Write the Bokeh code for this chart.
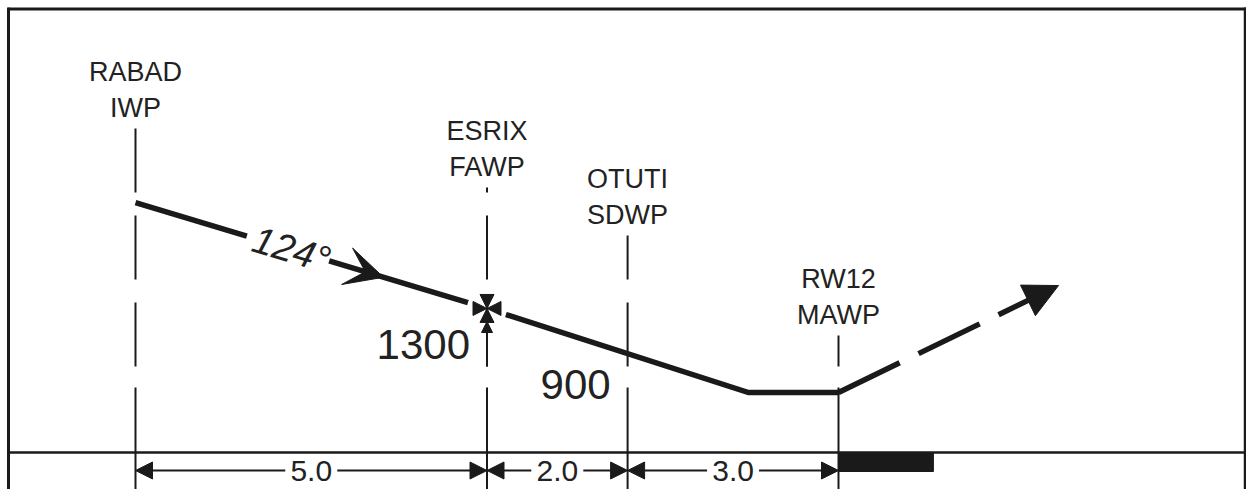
import numpy as np
from bokeh.plotting import figure
from bokeh.models import Arrow, NormalHead, VeeHead, ColumnDataSource
from bokeh.core.properties import value
from bokeh.embed import file_html
from bokeh.resources import INLINE

# ---------------- data ----------------
waypoints = ["RABAD", "ESRIX", "OTUTI", "RW12"]
wp_roles = ["IWP", "FAWP", "SDWP", "MAWP"]
leg_nm = [5.0, 2.0, 3.0]
leg_labels = ["5.0", "2.0", "3.0"]
alt_fix_index = [1, 2]            # ESRIX, OTUTI
alt_values = [1300, 900]
alt_labels = ["1300", "900"]
course_deg = 124
profile_nm = [0.0, 5.0, 8.72, 10.0]
profile_alt = [2256, 1300, 541, 541]
missed_nm = [10.0, 13.13]
missed_alt = [541, 1507]
runway_nm = [10.0, 11.35]

# ---------------- layout / style ----------------
W, H = 1246, 489
X0_PX, Y0_PX = 135, 452
PX_NM, PX_FT = 70.3, 0.1108
INK = "#1a1a1a"
TXT = "#222222"
FONT = value("Liberation Sans")


def xd(px):
    return (px - X0_PX) / PX_NM


def yd(py):
    return (Y0_PX - py) / PX_FT


label_tops_py = [128, 187, 235, 335]
DASH_ORIGIN, DASH_PERIOD = 128, 87
SOLID_FROM_PY = 387

p = figure(width=W, height=H,
           x_range=(xd(0), xd(W)), y_range=(yd(H), yd(0)),
           toolbar_location=None, output_backend="svg", min_border=0,
           x_axis_location=None, y_axis_location=None,
           outline_line_color=None, background_fill_color="white",
           border_fill_color="white")
p.grid.visible = False

cum = np.concatenate([[0.0], np.cumsum(leg_nm)])

# frame
p.line([xd(8), xd(1246)], [yd(8.5), yd(8.5)], line_color=INK, line_width=3)
p.line([xd(8), xd(8)], [yd(7), yd(H)], line_color=INK, line_width=3)
p.line([xd(1244.5), xd(1244.5)], [yd(7), yd(H)], line_color=INK, line_width=2.5)
# ground line
p.line([xd(8), xd(1246)], [0, 0], line_color=INK, line_width=2.5)
# runway bar
p.quad(left=[runway_nm[0]], right=[runway_nm[1]], top=[0], bottom=[yd(471)],
       fill_color=INK, line_color=INK)

# vertical waypoint lines
for x, top in zip(cum, label_tops_py):
    off = int((top - DASH_ORIGIN) % DASH_PERIOD)
    p.line([x, x], [yd(top), yd(SOLID_FROM_PY)], line_color=INK, line_width=2,
           line_dash="64 23", line_dash_offset=off)
    p.line([x, x], [yd(SOLID_FROM_PY), yd(H)], line_color=INK, line_width=2)

# profile
p.line(profile_nm, profile_alt, line_color=INK, line_width=5.5, line_join="miter")

# missed approach
p.add_layout(Arrow(end=NormalHead(size=34, fill_color=INK, line_color=INK),
                   x_start=missed_nm[0], y_start=missed_alt[0],
                   x_end=missed_nm[1], y_end=missed_alt[1],
                   line_color=INK, line_width=5.5, line_dash="68 21"))

# course label and arrow
angle = -np.arctan(((profile_alt[0] - profile_alt[1]) * PX_FT) /
                   ((profile_nm[1] - profile_nm[0]) * PX_NM))
m_nm = xd(287.5)
p.rect(x=[m_nm], y=[np.interp(m_nm, profile_nm, profile_alt)], width=86, height=14,
       width_units="screen", height_units="screen", angle=angle,
       fill_color="white", line_color=None)
c_nm = xd(291)
p.text(x=[c_nm], y=[np.interp(c_nm, profile_nm, profile_alt)], text=[f"{course_deg}°"],
       angle=angle, text_align="center", text_baseline="middle",
       text_font=FONT, text_font_style="italic", text_font_size="38px", text_color=TXT)
tip_nm = xd(383)
back_nm = xd(330)
p.add_layout(Arrow(end=VeeHead(size=38, fill_color=INK, line_color=INK),
                   x_start=back_nm, y_start=np.interp(back_nm, profile_nm, profile_alt),
                   x_end=tip_nm, y_end=np.interp(tip_nm, profile_nm, profile_alt),
                   line_alpha=0))

# FAF maltese cross
fx, fy = cum[alt_fix_index[0]], alt_values[0]
p.scatter(x=[fx], y=[fy], marker="circle", size=40, fill_color="white", line_color=None)
for dx, dy in [(-1, 0), (1, 0), (0, -1), (0, 1)]:
    p.add_layout(Arrow(end=NormalHead(size=14, fill_color=INK, line_color=INK),
                       x_start=fx + dx * 0.5, y_start=fy + dy * 300,
                       x_end=fx, y_end=fy, line_alpha=0))
p.add_layout(Arrow(end=NormalHead(size=11, fill_color=INK, line_color=INK),
                   x_start=fx, y_start=yd(366), x_end=fx, y_end=yd(321),
                   line_color=INK, line_width=2))

# altitude labels
alt_src = ColumnDataSource(dict(x=[cum[i] for i in alt_fix_index], y=alt_values,
                                t=alt_labels, yoff=[36, 32]))
p.text(x="x", y="y", text="t", y_offset="yoff", x_offset=-17, source=alt_src,
       text_align="right", text_baseline="middle", text_font=FONT,
       text_font_size="42px", text_color=TXT)

# waypoint labels
p.text(x=list(cum), y=[yd(t) for t in label_tops_py],
       text=[f"{n}\n{r}" for n, r in zip(waypoints, wp_roles)],
       text_align="center", text_baseline="bottom", y_offset=-6,
       text_font=FONT, text_font_size="27px", text_color=TXT, text_line_height=1.2)

# distance dimension arrows
y_dim = yd(470)
for a, b in zip(cum[:-1], cum[1:]):
    p.add_layout(Arrow(start=NormalHead(size=17, fill_color=INK, line_color=INK),
                       end=NormalHead(size=17, fill_color=INK, line_color=INK),
                       x_start=a, y_start=y_dim, x_end=b, y_end=y_dim,
                       line_color=INK, line_width=2, level="underlay"))
mids = list((cum[:-1] + cum[1:]) / 2)
p.rect(x=mids, y=[y_dim] * 3, width=52, height=8, width_units="screen",
       height_units="screen", fill_color="white", line_color=None)
p.text(x=mids, y=[y_dim] * 3, text=leg_labels, text_align="center",
       text_baseline="middle", text_font=FONT, text_font_size="30px", text_color=TXT)

open("out.html", "w").write(file_html(p, INLINE))
